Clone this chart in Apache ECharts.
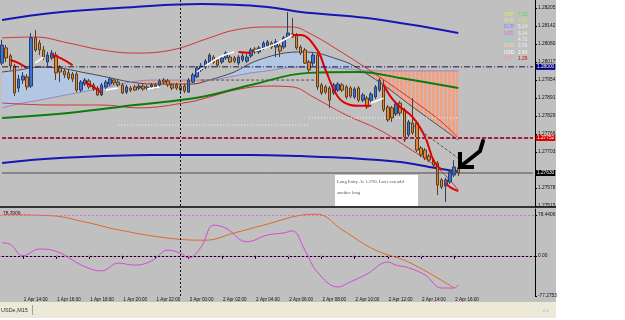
<!DOCTYPE html>
<html>
<head>
<meta charset="utf-8">
<script src="https://cdn.jsdelivr.net/npm/echarts@6/dist/echarts.min.js"></script>
<style>
html, body { margin: 0; padding: 0; background: #fff; }
#chart { width: 625px; height: 320px; }
</style>
</head>
<body>
<div id="chart"></div>
<script>
// 15 minute bars, first one 1 Apr 12:45
const barCount = 129;
const lastBar = 110;
const times = [];
for (let i = 0; i < barCount; i++) {
  const total = 12 * 60 + 45 + i * 15;
  const day = 1 + Math.floor(total / 1440);
  const h = Math.floor((total % 1440) / 60);
  const m = total % 60;
  times.push(day + ' Apr ' + String(h).padStart(2, '0') + ':' + String(m).padStart(2, '0'));
}

// candles (M15)
const opens = [
  1.28013, 1.28066, 1.28038, 1.28003, 1.27926, 1.27954, 1.27965, 1.27933, 1.28101, 1.28083,
  1.28059, 1.28017, 1.28031, 1.28041, 1.27996, 1.27986, 1.27979, 1.27975, 1.27975, 1.27919,
  1.27940, 1.27951, 1.27937, 1.27926, 1.27902, 1.27930, 1.27940, 1.27954, 1.27947, 1.27937,
  1.27912, 1.27926, 1.27930, 1.27926, 1.27933, 1.27930, 1.27930, 1.27937, 1.27937, 1.27954,
  1.27951, 1.27937, 1.27937, 1.27933, 1.27933, 1.27912, 1.27947, 1.27965, 1.27989, 1.27999,
  1.28013, 1.28034, 1.28024, 1.28017, 1.28031, 1.28034, 1.28031, 1.28013, 1.28024, 1.28020,
  1.28038, 1.28062, 1.28052, 1.28066, 1.28073, 1.28083, 1.28069, 1.28073, 1.28069, 1.28104,
  1.28115, 1.28111, 1.28069, 1.28059, 1.28017, 1.28013, 1.28041, 1.27937, 1.27930, 1.27926,
  1.27909, 1.27919, 1.27937, 1.27930, 1.27926, 1.27895, 1.27926, 1.27884, 1.27891, 1.27884,
  1.27895, 1.27919, 1.27937, 1.27860, 1.27857, 1.27836, 1.27874, 1.27850, 1.27763, 1.27804,
  1.27804, 1.27717, 1.27710, 1.27689, 1.27675, 1.27665, 1.27606, 1.27585, 1.27599, 1.27623,
  1.27648
];
const closes = [
  1.28076, 1.28031, 1.28003, 1.27909, 1.27958, 1.27968, 1.27930, 1.28101, 1.28059, 1.28059,
  1.28034, 1.28041, 1.28048, 1.27979, 1.27982, 1.27972, 1.27961, 1.27958, 1.27919, 1.27947,
  1.27954, 1.27930, 1.27923, 1.27902, 1.27937, 1.27947, 1.27958, 1.27944, 1.27937, 1.27909,
  1.27930, 1.27919, 1.27919, 1.27933, 1.27923, 1.27926, 1.27937, 1.27930, 1.27951, 1.27947,
  1.27937, 1.27926, 1.27926, 1.27919, 1.27916, 1.27954, 1.27972, 1.27996, 1.28003, 1.28020,
  1.28041, 1.28017, 1.28006, 1.28031, 1.28048, 1.28017, 1.28020, 1.28034, 1.28038, 1.28034,
  1.28059, 1.28052, 1.28066, 1.28083, 1.28087, 1.28069, 1.28087, 1.28055, 1.28101, 1.28118,
  1.28104, 1.28066, 1.28048, 1.28013, 1.27989, 1.28041, 1.27930, 1.27909, 1.27912, 1.27884,
  1.27937, 1.27940, 1.27919, 1.27895, 1.27898, 1.27923, 1.27884, 1.27902, 1.27860, 1.27905,
  1.27930, 1.27954, 1.27850, 1.27815, 1.27822, 1.27871, 1.27839, 1.27745, 1.27808, 1.27770,
  1.27710, 1.27693, 1.27682, 1.27675, 1.27658, 1.27588, 1.27581, 1.27606, 1.27634, 1.27651,
  1.27630
];
const lows = [
  1.28006, 1.28017, 1.27989, 1.27898, 1.27912, 1.27940, 1.27919, 1.27926, 1.28052, 1.28041,
  1.28024, 1.28003, 1.28024, 1.27954, 1.27947, 1.27961, 1.27954, 1.27947, 1.27912, 1.27912,
  1.27933, 1.27923, 1.27916, 1.27898, 1.27898, 1.27923, 1.27933, 1.27937, 1.27930, 1.27905,
  1.27905, 1.27912, 1.27916, 1.27919, 1.27916, 1.27919, 1.27923, 1.27923, 1.27930, 1.27940,
  1.27930, 1.27919, 1.27919, 1.27912, 1.27909, 1.27909, 1.27944, 1.27961, 1.27982, 1.27992,
  1.28010, 1.28010, 1.27999, 1.28010, 1.28024, 1.28013, 1.28013, 1.28006, 1.28017, 1.28013,
  1.28031, 1.28045, 1.28045, 1.28059, 1.28066, 1.28062, 1.28034, 1.28034, 1.28062, 1.28097,
  1.28101, 1.28059, 1.28041, 1.28010, 1.27982, 1.28003, 1.27919, 1.27902, 1.27905, 1.27857,
  1.27902, 1.27912, 1.27912, 1.27888, 1.27891, 1.27888, 1.27877, 1.27877, 1.27853, 1.27877,
  1.27888, 1.27912, 1.27843, 1.27808, 1.27808, 1.27829, 1.27829, 1.27738, 1.27756, 1.27763,
  1.27703, 1.27686, 1.27675, 1.27668, 1.27651, 1.27553, 1.27574, 1.27529, 1.27592, 1.27616,
  1.27620
];
const highs = [
  1.28094, 1.28076, 1.28045, 1.28010, 1.27972, 1.27982, 1.27975, 1.28118, 1.28128, 1.28094,
  1.28073, 1.28052, 1.28059, 1.28052, 1.28006, 1.27996, 1.27989, 1.27982, 1.27982, 1.27954,
  1.27961, 1.27958, 1.27944, 1.27933, 1.27944, 1.27954, 1.27965, 1.27961, 1.27954, 1.27944,
  1.27937, 1.27933, 1.27937, 1.27940, 1.27940, 1.27937, 1.27944, 1.27944, 1.27958, 1.27961,
  1.27958, 1.27944, 1.27944, 1.27940, 1.27940, 1.27961, 1.27979, 1.28003, 1.28013, 1.28027,
  1.28048, 1.28041, 1.28031, 1.28038, 1.28055, 1.28041, 1.28038, 1.28041, 1.28048, 1.28045,
  1.28066, 1.28069, 1.28073, 1.28090, 1.28094, 1.28090, 1.28097, 1.28080, 1.28108, 1.28191,
  1.28170, 1.28118, 1.28076, 1.28066, 1.28024, 1.28048, 1.28048, 1.27944, 1.27937, 1.27933,
  1.27944, 1.27947, 1.27944, 1.27937, 1.27933, 1.27930, 1.27933, 1.27909, 1.27898, 1.27912,
  1.27937, 1.27961, 1.27954, 1.27867, 1.27864, 1.27877, 1.27881, 1.27857, 1.27815, 1.27891,
  1.27812, 1.27724, 1.27717, 1.27696, 1.27682, 1.27672, 1.27613, 1.27613, 1.27641, 1.27675,
  1.27654
];

// overlay lines: [bar index, price]
const blueUpper = [[0, 1.28163], [12, 1.28188], [32, 1.28209], [48, 1.28219], [64, 1.28209], [72, 1.28191], [88, 1.28170], [110, 1.28118]];
const blueLower = [[0, 1.27665], [14, 1.27682], [36, 1.27693], [60, 1.27693], [72, 1.27689], [84, 1.27682], [96, 1.27668], [103, 1.27651], [110, 1.27634]];
const greenMa = [[0, 1.27822], [16, 1.27839], [32, 1.27867], [48, 1.27895], [60, 1.27937], [74, 1.27979], [86, 1.27982], [96, 1.27961], [110, 1.27926]];
const redUpper = [[0, 1.28101], [8, 1.28104], [16, 1.28083], [24, 1.28059], [32, 1.28048], [41, 1.28059], [50, 1.28101], [56, 1.28128],
  [64, 1.28139], [70, 1.28139], [74, 1.28118], [81, 1.28059], [91, 1.27965], [99, 1.27884], [106, 1.27808], [110, 1.27752]];
const redLower = [[0, 1.27874], [12, 1.27867], [24, 1.27867], [33, 1.27857], [45, 1.27877], [50, 1.27895], [56, 1.27919], [64, 1.27933],
  [70, 1.27930], [75, 1.27895], [83, 1.27832], [91, 1.27780], [98, 1.27717], [105, 1.27648], [110, 1.27571]];

// cloud edges
const cloudIdx = [0, 4, 9, 14, 19, 24, 31, 36, 41, 46, 50, 56, 60, 64, 68, 72, 76, 80, 84, 88, 92, 98, 104, 110];
const spanA = [1.27982, 1.27989, 1.27999, 1.27996, 1.27982, 1.27968, 1.27947, 1.27940, 1.27940, 1.27940, 1.27954, 1.27982,
  1.28013, 1.28034, 1.28048, 1.28052, 1.28048, 1.28031, 1.28010, 1.27975, 1.27937, 1.27871, 1.27808, 1.27745];
const spanB = [1.27857, 1.27871, 1.27884, 1.27898, 1.27912, 1.27926, 1.27947, 1.27954, 1.27954, 1.27954, 1.27954, 1.27968,
  1.27979, 1.27986, 1.27996, 1.27999, 1.27999, 1.27996, 1.27992, 1.27986, 1.27986, 1.27986, 1.27986, 1.27986];

// coloured trend line pieces
const trendRed = [
  [[2, 1.28024], [4, 1.28013], [6, 1.27996]],
  [[12, 1.28041], [14, 1.28031], [17, 1.28006]],
  [[20, 1.27947], [22, 1.27930], [24, 1.27909]],
  [[57, 1.28052], [60, 1.28048]],
  [[70, 1.28111], [72, 1.28111], [76, 1.28059], [78, 1.27989], [81, 1.27895], [84, 1.27867], [86, 1.27864], [89, 1.27864]],
  [[92, 1.27937], [94, 1.27890], [96, 1.27860], [99, 1.27825], [102, 1.27756], [104, 1.27675], [106, 1.27641]],
  [[107, 1.27595], [108, 1.27581], [110, 1.27567]]
];
const trendWhite = [
  [[8, 1.28013], [10, 1.28034]],
  [[25, 1.27919], [28, 1.27926]],
  [[35, 1.27923], [38, 1.27930]],
  [[47, 1.27982], [50, 1.28013], [53, 1.28038], [56, 1.28052]],
  [[61, 1.28055], [66, 1.28080], [70, 1.28111]],
  [[89, 1.27874], [92, 1.27891]]
];
const whiteLevels = [[[28, 1.27797], [74, 1.27797]], [[74, 1.27822], [110, 1.27822]]];
const darkDashed = [[[48, 1.27954], [76, 1.27954]], [[98, 1.27808], [110, 1.27682]]];

// horizontal levels
const levelRound = 1.28000;
const levelRed = 1.27752;
const levelBid = 1.27630;
const crossIndex = 43;

// price axis labels
const priceTicks = [1.28205, 1.28142, 1.28080, 1.28017, 1.27954, 1.27891, 1.27829, 1.27766, 1.27703, 1.27578, 1.27515];

// oscillator panel
const oscOrange = [[0, 79], [12, 77], [20, 65], [28, 50], [40, 34], [49, 30], [56, 44], [64, 61], [72, 78], [76, 80],
  [82, 50], [90, 11], [98, -12], [109, -62]];
const oscMagenta = [[0, 25], [2, 22], [5, 0], [9, 13], [12, 11], [20, -21], [24, -29], [28, -14], [32, -18], [36, -10],
  [40, 11], [43, 5], [45, -4], [48, 17], [51, 59], [54, 53], [59, 27], [64, 40], [68, 44], [70, 48], [73, 11], [76, -31],
  [81, -60], [84, -50], [88, -35], [93, -12], [95, -18], [98, -23], [102, -37], [106, -62], [109, -62], [110, -56]];
const oscTicks = [-77.2753, 0, 78.4406];
const oscTop = 78.4406;

// currency strength box
const strengthNames = ['GBP', 'AUD', 'EUR', 'NZD', 'CHF', 'CAD', 'USD', 'JPY'];
const strengthValues = ['7.28', '7.00', '5.14', '5.14', '4.71', '3.00', '2.43', '1.29'];
const strengthNameColors = ['#e8e070', '#d8e890', '#7f8cff', '#d070d8', '#70e0e0', '#f8d0a0', '#ffffff', '#ff8a8a'];
const strengthValueColors = ['#50e050', '#c8e850', '#f0f0f0', '#f0f0f0', '#f0f0f0', '#f0f0f0', '#ffffff', '#d00000'];

const fontFam = 'Liberation Sans';

// vertical stripe fill for the bearish cloud
const stripe = document.createElement('canvas');
stripe.width = 4;
stripe.height = 4;
const sctx = stripe.getContext('2d');
sctx.fillStyle = '#f2a284';
sctx.fillRect(0, 0, 3, 4);
const stripeFill = { image: stripe, repeat: 'repeat' };

function lineSeries(data, color, width, extra) {
  return Object.assign({
    type: 'line', xAxisIndex: 0, yAxisIndex: 0, data: data, symbol: 'none', smooth: 0.4,
    lineStyle: { color: color, width: width }, silent: true, z: 3
  }, extra || {});
}

function levelSeries(value, style, boxColor) {
  return {
    type: 'line', xAxisIndex: 0, yAxisIndex: 0, symbol: 'none', silent: true, z: 6, clip: false,
    data: [[0, value], [barCount - 1, value]],
    lineStyle: style,
    endLabel: boxColor ? {
      show: true, formatter: value.toFixed(5), backgroundColor: boxColor, color: '#fff',
      fontSize: 4.8, fontFamily: fontFam, padding: [1, 1, 0, 1], distance: 3
    } : { show: false }
  };
}

function cloudFill(from, to, top, bottom, color, name) {
  const idx = cloudIdx.slice(from, to + 1);
  const lo = bottom.slice(from, to + 1);
  const hi = top.slice(from, to + 1);
  return [
    { type: 'line', xAxisIndex: 0, yAxisIndex: 0, stack: name, smooth: 0.3, symbol: 'none', silent: true, z: 1,
      lineStyle: { opacity: 0 }, data: idx.map((x, k) => [x, lo[k]]) },
    { type: 'line', xAxisIndex: 0, yAxisIndex: 0, stack: name, smooth: 0.3, symbol: 'none', silent: true, z: 1,
      lineStyle: { opacity: 0 }, areaStyle: { color: color, opacity: 1 },
      data: idx.map((x, k) => [x, Math.max(0, +(hi[k] - lo[k]).toFixed(5))]) }
  ];
}

const candleData = opens.map((o, i) => [o, closes[i], lows[i], highs[i]]);
const series = [];

series.push(...cloudFill(0, 6, spanA, spanB, '#b4c7e2', 'c1'));
series.push(...cloudFill(6, 10, spanB, spanA, stripeFill, 'c2'));
series.push(...cloudFill(10, 18, spanA, spanB, '#b4c7e2', 'c3'));
series.push(...cloudFill(18, 23, spanB, spanA, stripeFill, 'c4'));

series.push(lineSeries(cloudIdx.map((x, k) => [x, spanA[k]]), '#4a4a4a', 1, { smooth: 0.3 }));
series.push(lineSeries(cloudIdx.map((x, k) => [x, spanB[k]]), '#9486c4', 1, { smooth: 0.3 }));
series.push(lineSeries(blueUpper, '#1616b4', 2));
series.push(lineSeries(blueLower, '#1616b4', 2));
series.push(lineSeries(redUpper, '#d23434', 1));
series.push(lineSeries(redLower, '#d23434', 1));
whiteLevels.forEach(seg => series.push(lineSeries(seg, '#f4f4f4', 1, { smooth: false, lineStyle: { color: '#f4f4f4', width: 1, type: [1, 2] } })));
darkDashed.forEach(seg => series.push(lineSeries(seg, '#6a4848', 1, { smooth: false, lineStyle: { color: '#6a4848', width: 1, type: [3, 2] } })));

// horizontal price levels with their axis boxes
series.push(levelSeries(levelRound, { color: '#141450', width: 1, type: [6, 2, 1, 2] }, '#00007c'));
series.push(levelSeries(levelRed, { color: '#dca0b0', width: 2, type: 'solid' }, null));
series.push(levelSeries(levelRed, { color: '#9c2040', width: 2, type: [4, 2] }, '#e00000'));
series.push(levelSeries(levelBid, { color: '#4c4c4c', width: 1, type: 'solid' }, '#000000'));

series.push(lineSeries(greenMa, '#0a7d0a', 2, {
  markLine: {
    silent: true, symbol: 'none', z: 6, animation: false, label: { show: false },
    data: [{ xAxis: times[crossIndex], lineStyle: { color: '#111', width: 1, type: [2, 2] } }]
  }
}));

series.push({
  type: 'candlestick', xAxisIndex: 0, yAxisIndex: 0, data: candleData, barWidth: 3, z: 4, silent: true,
  itemStyle: { color: '#3a74dc', color0: '#de8a34', borderColor: '#2c3e5c', borderColor0: '#5c3c20', borderWidth: 1 }
});

trendRed.forEach(seg => series.push(lineSeries(seg, '#e00000', 2, { z: 5 })));
trendWhite.forEach(seg => series.push(lineSeries(seg, '#ffffff', 1.5, { z: 5 })));

series.push({
  type: 'line', xAxisIndex: 1, yAxisIndex: 1, data: oscOrange, symbol: 'none', smooth: 0.4, silent: true,
  lineStyle: { color: '#e0672a', width: 1 }, z: 3
});
series.push({
  type: 'line', xAxisIndex: 1, yAxisIndex: 1, data: oscMagenta, symbol: 'none', smooth: 0.4, silent: true,
  lineStyle: { color: '#d448d4', width: 1 }, z: 4,
  markLine: {
    silent: true, symbol: 'none', label: { show: false }, animation: false,
    data: [
      { yAxis: oscTop, lineStyle: { color: '#d468d4', width: 1, type: [2, 2] } },
      { yAxis: 0, lineStyle: { color: '#d468d4', width: 1, type: [2, 2] } },
      { xAxis: times[crossIndex], lineStyle: { color: '#111', width: 1, type: [2, 2] } }
    ]
  }
});

const evenHour = (idx) => {
  if (idx > lastBar) return false;
  const t = times[idx];
  return t.endsWith(':00') && parseInt(t.slice(-5, -3), 10) % 2 === 0;
};

const graphics = [
  { type: 'rect', shape: { x: 556, y: 0, width: 69, height: 320 }, style: { fill: '#ffffff' }, silent: true },
  { type: 'rect', shape: { x: 0, y: 302, width: 556, height: 16 }, style: { fill: '#ece9d8' }, silent: true },
  { type: 'rect', shape: { x: 0, y: 318, width: 625, height: 2 }, style: { fill: '#ffffff' }, silent: true },
  { type: 'rect', shape: { x: 0, y: 206, width: 556, height: 2 }, style: { fill: '#333333' }, silent: true },
  { type: 'text', x: 1, y: 307, style: { text: 'USDe,M15', fill: '#333', fontSize: 5.5, fontFamily: fontFam } },
  { type: 'rect', shape: { x: 32, y: 305, width: 1, height: 10 }, style: { fill: '#a0a0a0' }, silent: true },
  { type: 'text', x: 543, y: 307, style: { text: '‹ ›', fill: '#888', fontSize: 6, fontFamily: fontFam } },
  { type: 'text', x: 3, y: 211, style: { text: '78.2909', fill: '#111', fontSize: 4.8, fontFamily: fontFam } },
  // note box
  { type: 'rect', shape: { x: 335, y: 175, width: 83, height: 31 }, style: { fill: '#ffffff' }, z: 50 },
  { type: 'text', x: 337, y: 179, z: 51, style: { text: 'Long Entry At 1.2765 Later can add', fill: '#555', fontSize: 4.6, fontFamily: 'Liberation Serif' } },
  { type: 'text', x: 337, y: 190, z: 51, style: { text: 'another long', fill: '#555', fontSize: 4.6, fontFamily: 'Liberation Serif' } },
  // hand drawn arrow
  { type: 'polyline', z: 52, shape: { points: [[483, 141], [480, 151], [470, 159], [461, 166]] }, style: { stroke: '#000', lineWidth: 4, fill: null, lineCap: 'round' } },
  { type: 'polyline', z: 52, shape: { points: [[460, 152], [460, 167], [474, 167]] }, style: { stroke: '#000', lineWidth: 4, fill: null, lineJoin: 'miter' } }
];

strengthNames.forEach((n, k) => {
  const y = 12 + k * 6.3;
  graphics.push({ type: 'text', x: 504, y: y, z: 40, style: { text: n, fill: strengthNameColors[k], fontSize: 4.8, fontFamily: fontFam } });
  graphics.push({ type: 'text', x: 518, y: y, z: 40, style: { text: strengthValues[k], fill: strengthValueColors[k], fontSize: 4.8, fontFamily: fontFam } });
});

const chart = echarts.init(document.getElementById('chart'));
chart.setOption({
  animation: false,
  backgroundColor: '#c0c0c0',
  textStyle: { fontFamily: fontFam },
  grid: [
    { left: 0, top: 0, width: 535, height: 206 },
    { left: 0, top: 209, width: 535, height: 87 }
  ],
  xAxis: [
    { type: 'category', gridIndex: 0, data: times, show: false },
    {
      type: 'category', gridIndex: 1, data: times,
      axisLine: { show: true, lineStyle: { color: '#000', width: 1 } },
      axisTick: { show: true, alignWithLabel: true, interval: (i) => evenHour(i), length: 3, inside: false, lineStyle: { color: '#000' } },
      axisLabel: { interval: (i) => evenHour(i), align: 'left', margin: 1, fontSize: 4.6, color: '#111', padding: [0, 0, 0, 1] },
      splitLine: { show: false }
    }
  ],
  yAxis: [
    {
      type: 'value', gridIndex: 0, position: 'right', min: 1.27515, max: 1.28233,
      axisLine: { show: true, lineStyle: { color: '#000', width: 1 } },
      axisTick: { show: true, length: 2, customValues: priceTicks, lineStyle: { color: '#000' } },
      axisLabel: { customValues: priceTicks, formatter: (v) => v.toFixed(5), fontSize: 4.8, color: '#111', margin: 3 },
      splitLine: { show: false }
    },
    {
      type: 'value', gridIndex: 1, position: 'right', min: -77.2753, max: 90,
      axisLine: { show: true, lineStyle: { color: '#000', width: 1 } },
      axisTick: { show: true, length: 2, customValues: oscTicks, lineStyle: { color: '#000' } },
      axisLabel: { customValues: oscTicks, formatter: (v) => (v === 0 ? '0.00' : String(v)), fontSize: 4.8, color: '#111', margin: 3 },
      splitLine: { show: false }
    }
  ],
  graphic: graphics,
  series: series
});
</script>
</body>
</html>
